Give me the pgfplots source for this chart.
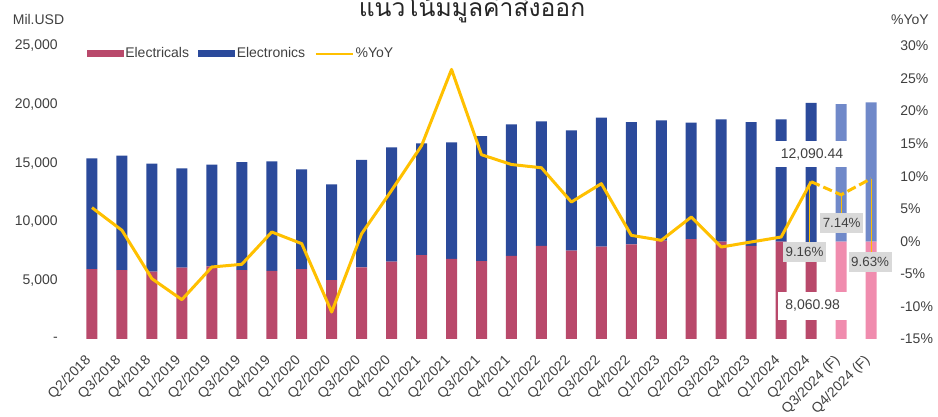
\documentclass[border=0pt]{standalone}
\usepackage{pgfplots}
\pgfplotsset{compat=1.18}
\usepackage{fontspec}
\setmainfont{Liberation Sans}
\newfontfamily\thaifont[Script=Thai]{Loma}
\definecolor{elec}{HTML}{B9496B}
\definecolor{eln}{HTML}{2B4A9B}
\definecolor{elecF}{HTML}{F08CAE}
\definecolor{elnF}{HTML}{7089C9}
\definecolor{yoy}{HTML}{FFC000}
\definecolor{lblgray}{HTML}{D9D9D9}
\definecolor{txt}{HTML}{404040}
\begin{document}
\begin{tikzpicture}
\path[use as bounding box] (-52.5pt,-58.5pt) rectangle (651pt,254.25pt);
\begin{axis}[
  at={(0pt,0pt)}, anchor=south west, scale only axis,
  width=617.25pt, height=219.75pt,
  xmin=-0.734, xmax=26.734, ymin=0, ymax=25000,
  scaled y ticks=false,
  axis line style={draw=none}, major tick length=0pt,
  ybar stacked, bar width=8.25pt,
  xtick={0,...,26},
  xticklabels={Q2/2018,Q3/2018,Q4/2018,Q1/2019,Q2/2019,Q3/2019,Q4/2019,Q1/2020,Q2/2020,Q3/2020,Q4/2020,Q1/2021,Q2/2021,Q3/2021,Q4/2021,Q1/2022,Q2/2022,Q3/2022,Q4/2022,Q1/2023,Q2/2023,Q3/2023,Q4/2023,Q1/2024,Q2/2024,Q3/2024 (F),Q4/2024 (F)},
  ytick={0,5000,10000,15000,20000,25000},
  yticklabels={{-},{5,000},{10,000},{15,000},{20,000},{25,000}},
  tick label style={font=\fontsize{10.5}{12}\selectfont, text=txt},
  xticklabel style={xshift=-2.25pt, yshift=-14.5pt, rotate=45, anchor=east, inner sep=0pt},
  yticklabel style={inner sep=0pt, xshift=-9pt},
  legend columns=3,
  legend style={at={(0.0203,0.973)}, anchor=west, draw=none, fill=none,
    font=\fontsize{10.5}{12}\selectfont, text=txt, inner sep=0pt,
    nodes={inner sep=1pt},
    /tikz/every even column/.append style={column sep=6pt}},
  legend cell align=left,
]
\addplot[fill=elec, draw=none, legend image code/.code={\fill[elec] (0pt,-2.6pt) rectangle (27.75pt,2.6pt);}] coordinates {
(0,5972)(1,5887)(2,5745)(3,6086)(4,6200)(5,5887)(6,5802)(7,5972)(8,5034)(9,6114)
(10,6597)(11,7167)(12,6826)(13,6655)(14,7082)(15,7935)(16,7537)(17,7878)(18,8077)(19,8400)
(20,8532)(21,8305)(22,7950)(23,8300)(24,8060.98)(25,0)(26,0)};
\addlegendentry{Electricals}
\addplot[fill=elecF, draw=none, forget plot] coordinates {
(0,0)(1,0)(2,0)(3,0)(4,0)(5,0)(6,0)(7,0)(8,0)(9,0)(10,0)(11,0)(12,0)(13,0)(14,0)(15,0)(16,0)(17,0)(18,0)(19,0)(20,0)(21,0)(22,0)(23,0)(24,0)
(25,8305)(26,8305)};
\addplot[fill=eln, draw=none, legend image code/.code={\fill[eln] (0pt,-2.6pt) rectangle (27.75pt,2.6pt);}] coordinates {
(0,9446)(1,9753)(2,9212)(3,8474)(4,8673)(5,9215)(6,9357)(7,8503)(8,8162)(9,9159)
(10,9758)(11,9529)(12,9955)(13,10665)(14,11236)(15,10639)(16,10267)(17,11004)(18,10437)(19,10260)
(20,9924)(21,10440)(22,10550)(23,10445)(24,12090.44)(25,0)(26,0)};
\addlegendentry{Electronics}
\addplot[fill=elnF, draw=none, forget plot] coordinates {
(0,0)(1,0)(2,0)(3,0)(4,0)(5,0)(6,0)(7,0)(8,0)(9,0)(10,0)(11,0)(12,0)(13,0)(14,0)(15,0)(16,0)(17,0)(18,0)(19,0)(20,0)(21,0)(22,0)(23,0)(24,0)
(25,11745)(26,11890)};
\addlegendimage{legend image code/.code={\draw[yoy, line width=2pt] (0pt,0pt) -- (27.75pt,0pt);}}
\addlegendentry{\%YoY}
\end{axis}
\begin{axis}[
  at={(0pt,0pt)}, anchor=south west, scale only axis,
  width=617.25pt, height=219.75pt,
  xmin=-0.734, xmax=26.734, ymin=-15, ymax=30,
  axis y line*=right, axis x line=none,
  axis line style={draw=none}, major tick length=0pt,
  xtick=\empty,
  ytick={-15,-10,-5,0,5,10,15,20,25,30},
  yticklabels={-15\%,-10\%,-5\%,0\%,5\%,10\%,15\%,20\%,25\%,30\%},
  tick label style={font=\fontsize{10.5}{12}\selectfont, text=txt},
  yticklabel style={inner sep=0pt, xshift=5.25pt},
]
\node[fill=white, minimum width=54.75pt, minimum height=19.5pt, inner sep=0pt, text=txt, font=\fontsize{10.5}{12}\selectfont] at (axis cs:24.03,13.41) {12,090.44};
\node[fill=white, minimum width=52pt, minimum height=21pt, inner sep=0pt, text=txt, font=\fontsize{10.5}{12}\selectfont] at (axis cs:24.05,-9.93) {8,060.98};
\addplot[yoy, line width=2.25pt, line join=round] coordinates {
(0,5.17)(1,1.69)(2,-5.74)(3,-8.96)(4,-3.94)(5,-3.53)(6,1.43)(7,-0.36)(8,-10.86)(9,1.17)
(10,7.83)(11,14.7)(12,26.4)(13,13.3)(14,11.8)(15,11.3)(16,6.04)(17,8.86)(18,0.92)(19,0.15)
(20,3.73)(21,-0.87)(22,-0.1)(23,0.66)(24,9.16)};
\addplot[yoy, line width=2.25pt, line join=round, dash pattern=on 7pt off 3pt] coordinates {
(24,9.16)(25,7.14)(26,9.63)};
\draw[yoy, line width=0.7pt] (axis cs:23.95,9.16) -- (axis cs:23.95,-0.1);
\draw[yoy, line width=0.7pt] (axis cs:25,7.14) -- (axis cs:25,4.3);
\draw[yoy, line width=0.7pt] (axis cs:26,9.63) -- (axis cs:26,-1.69);
\node[fill=lblgray, minimum width=32.25pt, minimum height=15pt, inner sep=0pt, text=txt, font=\fontsize{10}{12}\selectfont] at (axis cs:23.78,-1.64) {9.16\%};
\node[fill=lblgray, minimum width=32.25pt, minimum height=15pt, inner sep=0pt, text=txt, font=\fontsize{10}{12}\selectfont] at (axis cs:25.02,2.76) {7.14\%};
\node[fill=lblgray, minimum width=32.25pt, minimum height=15pt, inner sep=0pt, text=txt, font=\fontsize{10}{12}\selectfont] at (axis cs:25.97,-3.23) {9.63\%};
\end{axis}
\node[anchor=base, font=\thaifont\fontsize{18.5}{20}\selectfont, text=black!85] at (301.5pt,241.7pt) {แนวโน้มมูลค่าส่งออก};
\node[font=\fontsize{10.5}{12}\selectfont, text=txt] at (-23.6pt,239.25pt) {Mil.USD};
\node[font=\fontsize{10.5}{12}\selectfont, text=txt] at (630pt,239.25pt) {\%YoY};
\end{tikzpicture}
\end{document}
